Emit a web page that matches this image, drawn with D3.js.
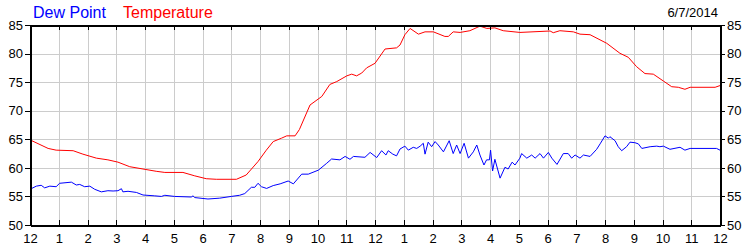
<!DOCTYPE html>
<html>
<head>
<meta charset="utf-8">
<script src="https://cdn.jsdelivr.net/npm/d3@7"></script>
<style>
  body { margin: 0; background: #fff; }
  svg { display: block; font-family: "Liberation Sans", Arial, sans-serif; }
  .grid line { stroke: #cccccc; stroke-width: 1; shape-rendering: crispEdges; }
  .axis path, .axis line { stroke: #000; shape-rendering: crispEdges; }
  .axis path { stroke-width: 2; }
  .axis text { font-size: 13px; fill: #000; }
</style>
</head>
<body>
<div id="chart"></div>
<script>
// hours since midnight and readings (deg F)
const tempHours = [0, 0.63, 0.91, 1.5, 1.84, 2.31, 2.71, 3.06, 3.47, 3.93, 4.39, 4.69, 5.32, 5.73, 6.13, 6.48,
    7.18, 7.52, 7.93, 8.22, 8.46, 8.75, 8.93, 9.22, 9.37, 9.74, 10.15, 10.43, 10.67, 11.02, 11.19, 11.36,
    11.54, 11.71, 12.0, 12.35, 12.75, 12.87, 13.04, 13.22, 13.51, 13.74, 14.03, 14.43, 14.55, 14.72, 14.96,
    15.30, 15.65, 15.89, 16.17, 16.46, 17.04, 18.09, 18.2, 18.43, 18.9, 19.13, 19.48, 20.06, 20.52, 20.81,
    21.1, 21.39, 21.68, 22.03, 22.32, 22.55, 22.78, 22.96, 23.83, 24]
const tempValues = [64.9, 63.4, 63.1, 63.0, 62.4, 61.7, 61.4, 61.0, 60.2, 59.8, 59.4, 59.2, 59.2, 58.6, 58.1, 58.0,
    58.0, 58.75, 61.1, 63.1, 64.6, 65.2, 65.6, 65.6, 66.7, 71.0, 72.5, 74.6, 75.1, 76.1, 76.4, 76.1,
    76.6, 77.5, 78.3, 80.8, 81.0, 81.5, 83.3, 84.4, 83.4, 83.8, 83.8, 83.0, 83.0, 83.8, 83.7,
    84.0, 84.8, 84.4, 84.5, 84.0, 83.7, 83.95, 83.65, 84.0, 83.8, 83.4, 83.3, 81.8, 80.05, 79.35,
    77.7, 76.5, 76.4, 75.2, 74.2, 74.1, 73.75, 74.1, 74.1, 74.4]

const dewHours = [0, 0.22, 0.39, 0.51, 0.69, 0.91, 1.03, 1.44, 1.61, 1.73, 1.90, 2.08, 2.25, 2.48, 2.71, 2.89,
    3.06, 3.18, 3.23, 3.41, 3.70, 3.93, 4.34, 4.57, 4.69, 5.03, 5.61, 5.67, 5.73, 6.19, 6.60, 7.00, 7.29,
    7.47, 7.70, 7.82, 7.93, 8.05, 8.23, 8.46, 8.70, 8.98, 9.16, 9.45, 9.68, 10.03, 10.32, 10.49, 10.78,
    10.96, 11.13, 11.25, 11.65, 11.83, 12.06, 12.23, 12.38, 12.46, 12.62, 12.75, 12.87, 13.04, 13.16,
    13.33, 13.45, 13.57, 13.68, 13.74, 13.85, 13.97, 14.09, 14.20, 14.38, 14.58, 14.72, 14.84, 14.96,
    15.10, 15.25, 15.42, 15.54, 15.65, 15.79, 15.88, 15.98, 16.02, 16.09, 16.17, 16.35, 16.52, 16.63,
    16.77, 16.87, 17.04, 17.10, 17.28, 17.45, 17.57, 17.74, 17.86, 18.03, 18.15, 18.33, 18.55, 18.72,
    18.84, 18.96, 19.13, 19.25, 19.48, 19.71, 19.83, 20.0, 20.12, 20.17, 20.35, 20.46, 20.58, 20.75,
    20.87, 21.04, 21.16, 21.28, 21.57, 21.80, 21.91, 22.03, 22.26, 22.61, 22.78, 22.96, 23.88, 24]
const dewValues = [56.25, 56.8, 56.95, 56.5, 56.8, 56.7, 57.3, 57.5, 57.0, 57.1, 56.7, 56.8, 56.25, 55.8, 56.0, 55.95,
    56.0, 56.35, 55.8, 55.9, 55.7, 55.25, 55.1, 55.0, 55.2, 55.0, 54.9, 55.1, 54.8, 54.55, 54.7, 55.0, 55.2,
    55.5, 56.6, 56.6, 57.3, 56.7, 56.4, 56.9, 57.2, 57.7, 57.2, 58.9, 58.9, 59.6, 60.8, 61.55, 61.4,
    62.0, 61.5, 62.0, 61.85, 62.7, 61.8, 63.0, 62.25, 63.0, 62.4, 62.1, 63.3, 63.8, 63.1,
    63.6, 63.4, 63.8, 64.3, 62.4, 64.5, 63.7, 64.6, 64.0, 62.8, 64.75, 62.5, 64.0, 62.5,
    64.3, 61.7, 62.8, 64.0, 62.25, 60.5, 61.4, 61.4, 63.1, 59.45, 61.5, 58.2, 60.1, 59.8,
    61.0, 60.5, 61.7, 62.5, 61.7, 62.25, 61.7, 62.5, 61.7, 62.7, 61.7, 60.6, 62.5, 62.5,
    61.7, 62.25, 61.7, 62.25, 62.0, 63.25, 64.2, 65.6, 65.2, 65.45, 64.75, 63.7, 63.0, 63.7,
    64.5, 64.4, 64.2, 63.4, 63.7, 63.8, 63.7, 63.8, 63.25, 63.6, 63.1, 63.4, 63.4, 63.1]

const hourLabels = ['12', '1', '2', '3', '4', '5', '6', '7', '8', '9', '10', '11',
    '12', '1', '2', '3', '4', '5', '6', '7', '8', '9', '10', '11', '12']
const yTicks = [50, 55, 60, 65, 70, 75, 80, 85]
const dateLabel = '6/7/2014'

const W = 750, H = 250
const M = { left: 30, right: 30, top: 25, bottom: 25 }

const svg = d3.select('#chart').append('svg')
    .attr('width', W)
    .attr('height', H)

const x = d3.scaleLinear().domain([0, 24]).range([M.left, W - M.right])
const y = d3.scaleLinear().domain([50, 85]).range([H - M.bottom, M.top])
const hourTicks = d3.range(0, 25)

// grid behind everything
const grid = svg.append('g').attr('class', 'grid')
grid.selectAll('line.v').data(hourTicks.slice(1, -1)).join('line').attr('class', 'v')
    .attr('x1', d => Math.round(x(d)) + 0.5).attr('x2', d => Math.round(x(d)) + 0.5)
    .attr('y1', y(85)).attr('y2', y(50))
grid.selectAll('line.h').data(yTicks.slice(1, -1)).join('line').attr('class', 'h')
    .attr('y1', d => Math.round(y(d)) + 0.5).attr('y2', d => Math.round(y(d)) + 0.5)
    .attr('x1', x(0)).attr('x2', x(24))

// series
const line = (hrs, vals) => d3.line()
    .x(i => x(hrs[i]))
    .y(i => y(vals[i]))(d3.range(hrs.length))

svg.append('path').attr('d', line(tempHours, tempValues))
    .attr('fill', 'none').attr('stroke', '#ff0000').attr('stroke-width', 1)
svg.append('path').attr('d', line(dewHours, dewValues))
    .attr('fill', 'none').attr('stroke', '#0000ff').attr('stroke-width', 1)

// axes: bottom/top ticks point inward, side ticks outward
svg.append('g').attr('class', 'axis')
    .attr('transform', `translate(0,${y(50)})`)
    .call(d3.axisBottom(x).tickValues(hourTicks).tickSizeInner(-5).tickSizeOuter(0).tickPadding(9)
        .tickFormat(d => hourLabels[d]))
svg.append('g').attr('class', 'axis')
    .attr('transform', `translate(0,${y(85)})`)
    .call(d3.axisTop(x).tickValues(hourTicks).tickSizeInner(-5).tickSizeOuter(0).tickFormat(''))
svg.append('g').attr('class', 'axis')
    .attr('transform', `translate(${x(0)},0)`)
    .call(d3.axisLeft(y).tickValues(yTicks).tickSizeInner(5).tickSizeOuter(0).tickPadding(2))
svg.append('g').attr('class', 'axis')
    .attr('transform', `translate(${x(24)},0)`)
    .call(d3.axisRight(y).tickValues(yTicks).tickSizeInner(5).tickSizeOuter(0).tickPadding(2))

// legend + date
svg.append('text').attr('x', 33).attr('y', 18).attr('font-size', 16).attr('fill', '#0000ff').text('Dew Point')
svg.append('text').attr('x', 123).attr('y', 18).attr('font-size', 16).attr('fill', '#ff0000').text('Temperature')
svg.append('text').attr('x', 718).attr('y', 17).attr('font-size', 13).attr('text-anchor', 'end')
    .attr('fill', '#000').text(dateLabel)
</script>
</body>
</html>
